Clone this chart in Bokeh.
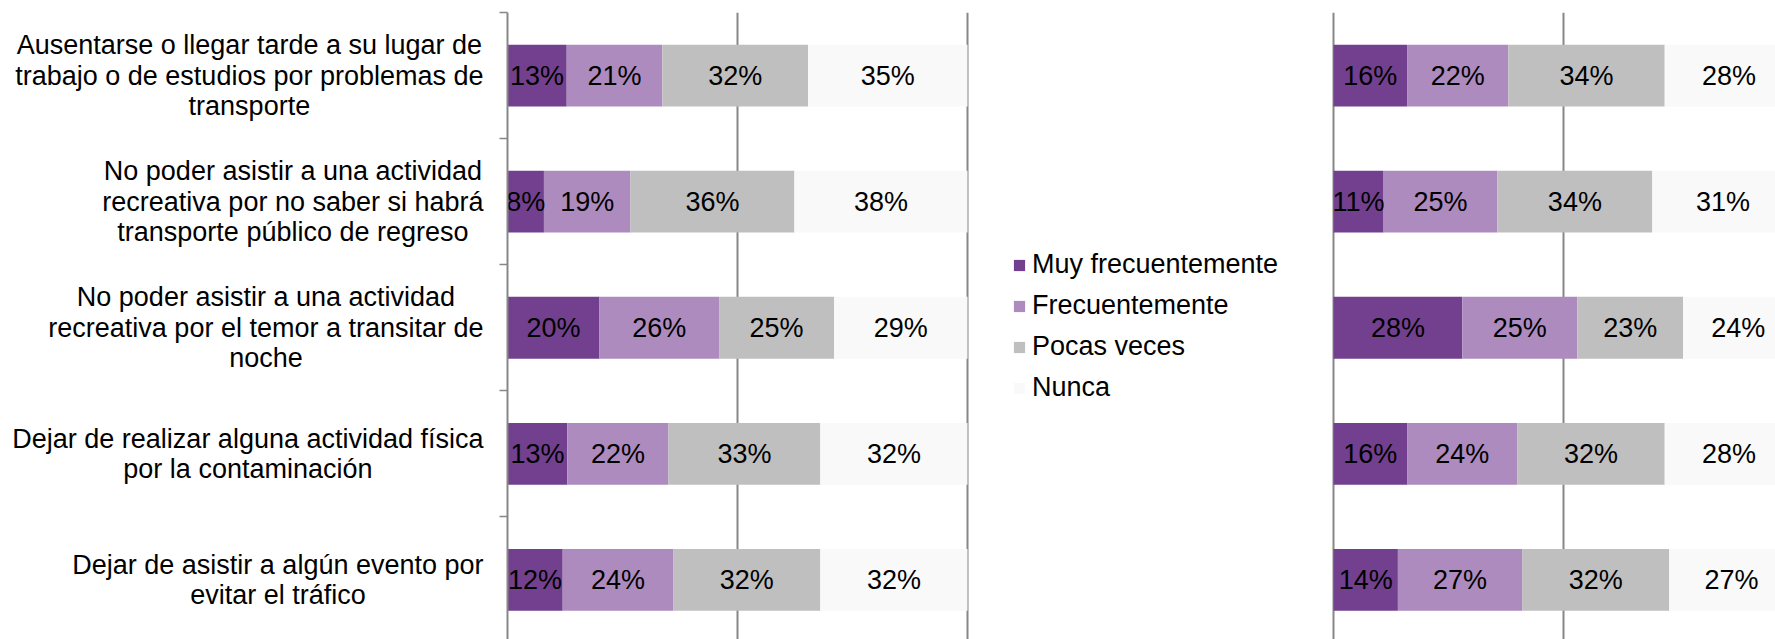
from bokeh.plotting import figure
from bokeh.models import (ColumnDataSource, Range1d, LinearAxis, FixedTicker,
                          Grid, Legend, LegendItem)
from bokeh.layouts import row
from bokeh.embed import file_html
from bokeh.resources import INLINE
from bokeh.core.properties import value

# ---------------- data ----------------
categories = [
    "Ausentarse o llegar tarde a su lugar de\ntrabajo o de estudios por problemas de\ntransporte",
    "No poder asistir a una actividad\nrecreativa por no saber si habrá\ntransporte público de regreso",
    "No poder asistir a una actividad\nrecreativa por el temor a transitar de\nnoche",
    "Dejar de realizar alguna actividad física\npor la contaminación",
    "Dejar de asistir a algún evento por\nevitar el tráfico",
]
series_names = ["Muy frecuentemente", "Frecuentemente", "Pocas veces", "Nunca"]

left_muy = [13, 8, 20, 13, 12]
left_frec = [21, 19, 26, 22, 24]
left_pocas = [32, 36, 25, 33, 32]
left_nunca = [35, 38, 29, 32, 32]

right_muy = [16, 11, 28, 16, 14]
right_frec = [22, 25, 25, 24, 27]
right_pocas = [34, 34, 23, 32, 32]
right_nunca = [28, 31, 24, 28, 27]

colors = ["#72408F", "#AD8BBE", "#BFBFBF", "#F9F9F9"]

# ---------------- style / layout ----------------
FONT = "Liberation Sans"
FS_PX = 27
FS = f"{FS_PX}px"
GRID = "#878787"
PX_PER_UNIT = 460          # pixels for 100 %
CAT_PITCH = 126.1          # pixels per category
LINE_PITCH = 30.5          # pixels between label lines
LABEL_GAP = 24             # pixels between labels and axis
FIG_H = 639
TOP = 12
FRAME_H = FIG_H - TOP
BAR_H = 0.49

# Arial / Liberation Sans advance widths (1/1000 em) used to right-align label blocks
ARIAL_W = {" ": 278, "a": 556, "b": 556, "c": 500, "d": 556, "e": 556, "f": 278, "g": 556,
           "h": 556, "i": 222, "j": 222, "k": 500, "l": 222, "m": 833, "n": 556, "o": 556,
           "p": 556, "q": 556, "r": 333, "s": 500, "t": 278, "u": 556, "v": 500, "w": 722,
           "x": 500, "y": 500, "z": 500, "á": 556, "é": 556, "í": 278, "ó": 556, "ú": 556,
           "A": 667, "D": 722, "N": 722, "M": 833, "F": 611, "P": 667}


def text_width(s, size):
    return sum(ARIAL_W.get(ch, 556) for ch in s) * size / 1000.0


ypos = list(range(len(categories)))
y_end = -0.5
y_start = y_end + FRAME_H / CAT_PITCH
y_range = Range1d(y_start, y_end)


def make_source(series):
    data = {"y": ypos}
    n = len(ypos)
    totals = [sum(s[i] for s in series) for i in range(n)]
    cum = [0.0] * n
    for k, s in enumerate(series):
        lefts = [cum[i] for i in range(n)]
        rights = [cum[i] + s[i] / totals[i] for i in range(n)]
        data[f"l{k}"] = lefts
        data[f"r{k}"] = rights
        data[f"m{k}"] = [(a + b) / 2 for a, b in zip(lefts, rights)]
        data[f"t{k}"] = [f"{v}%" for v in s]
        cum = rights
    return ColumnDataSource(data)


def draw(p, src):
    rends = []
    for k in range(len(series_names)):
        r = p.hbar(y="y", left=f"l{k}", right=f"r{k}", height=BAR_H, source=src,
                   fill_color=colors[k], line_color=None)
        rends.append(r)
    for k in range(len(series_names)):
        p.text(x=f"m{k}", y="y", text=f"t{k}", source=src, text_align="center",
               text_baseline="middle", text_font=value(FONT), text_font_size=FS,
               text_color="black")
    return rends


def remove_default_grids(p):
    p.renderers = [r for r in p.renderers if not isinstance(r, Grid)]
    p.center = [r for r in p.center if not isinstance(r, Grid)]


def base_fig(width, x_range, border_left, border_right):
    p = figure(width=width, height=FIG_H, x_range=x_range, y_range=y_range,
               x_axis_location=None, y_axis_location=None,
               toolbar_location=None, output_backend="svg",
               min_border_left=border_left, min_border_right=border_right,
               min_border_top=TOP, min_border_bottom=0, outline_line_color=None)
    remove_default_grids(p)
    return p


src_left = make_source([left_muy, left_frec, left_pocas, left_nunca])
src_right = make_source([right_muy, right_frec, right_pocas, right_nunca])

AXIS_X = 507               # page x of the left chart's 0 %
TICK_OUT = 8

# ---------------- category label panel ----------------
P0_W = AXIS_X - TICK_OUT
p0 = base_fig(P0_W, Range1d(-AXIS_X, -TICK_OUT), 0, 0)
lab_x, lab_y, lab_t = [], [], []
for i, cat in enumerate(categories):
    lines = cat.split("\n")
    block_w = max(text_width(ln, FS_PX) for ln in lines)
    cx = -(LABEL_GAP + block_w / 2.0)
    for j, ln in enumerate(lines):
        lab_x.append(cx)
        lab_y.append(ypos[i] + (j - (len(lines) - 1) / 2.0) * LINE_PITCH / CAT_PITCH)
        lab_t.append(ln)
cat_src = ColumnDataSource(dict(x=lab_x, y=lab_y, t=lab_t))
p0.text(x="x", y="y", text="t", source=cat_src, text_align="center",
        text_baseline="middle", text_font=value(FONT), text_font_size=FS,
        text_color="black")

# ---------------- left chart ----------------
L_W = 990 - P0_W
L_FRAME_W = 463
p1 = base_fig(L_W, Range1d(0, L_FRAME_W / PX_PER_UNIT), TICK_OUT, L_W - TICK_OUT - L_FRAME_W)

boundaries = [y - 0.5 for y in ypos] + [ypos[-1] + 0.5]
yaxis = LinearAxis(
    ticker=FixedTicker(ticks=boundaries),
    major_label_overrides={b: "" for b in boundaries},
    major_label_text_font_size="0px", major_label_standoff=0,
    major_tick_out=TICK_OUT, major_tick_in=0, major_tick_line_color=GRID, major_tick_line_width=1.5,
    minor_tick_out=0, minor_tick_in=0,
    axis_line_color=GRID, axis_line_width=2)
p1.add_layout(yaxis, "left")
p1.add_layout(Grid(dimension=0, ticker=FixedTicker(ticks=[0.5, 1.0]),
                   grid_line_color=GRID, grid_line_width=2))
draw(p1, src_left)

# ---------------- right chart ----------------
R_W = 1775 - 990
R_ZERO = 343               # pixels from frame left to 0 %
p2 = base_fig(R_W, Range1d(-R_ZERO / PX_PER_UNIT, (R_W - R_ZERO) / PX_PER_UNIT), 0, 0)
p2.add_layout(Grid(dimension=0, ticker=FixedTicker(ticks=[0.0, 0.5, 1.0]),
                   grid_line_color=GRID, grid_line_width=2))
rends = draw(p2, src_right)

legend = Legend(items=[LegendItem(label=n, renderers=[r]) for n, r in zip(series_names, rends)],
                location=(22, 236), padding=0, margin=0, spacing=10,
                glyph_width=14, glyph_height=14, label_standoff=6,
                label_text_font=FONT, label_text_font_size=FS, label_text_color="black",
                border_line_color=None, background_fill_alpha=0)
p2.add_layout(legend)

layout = row(p0, p1, p2)
open("out.html", "w").write(file_html(layout, INLINE))
